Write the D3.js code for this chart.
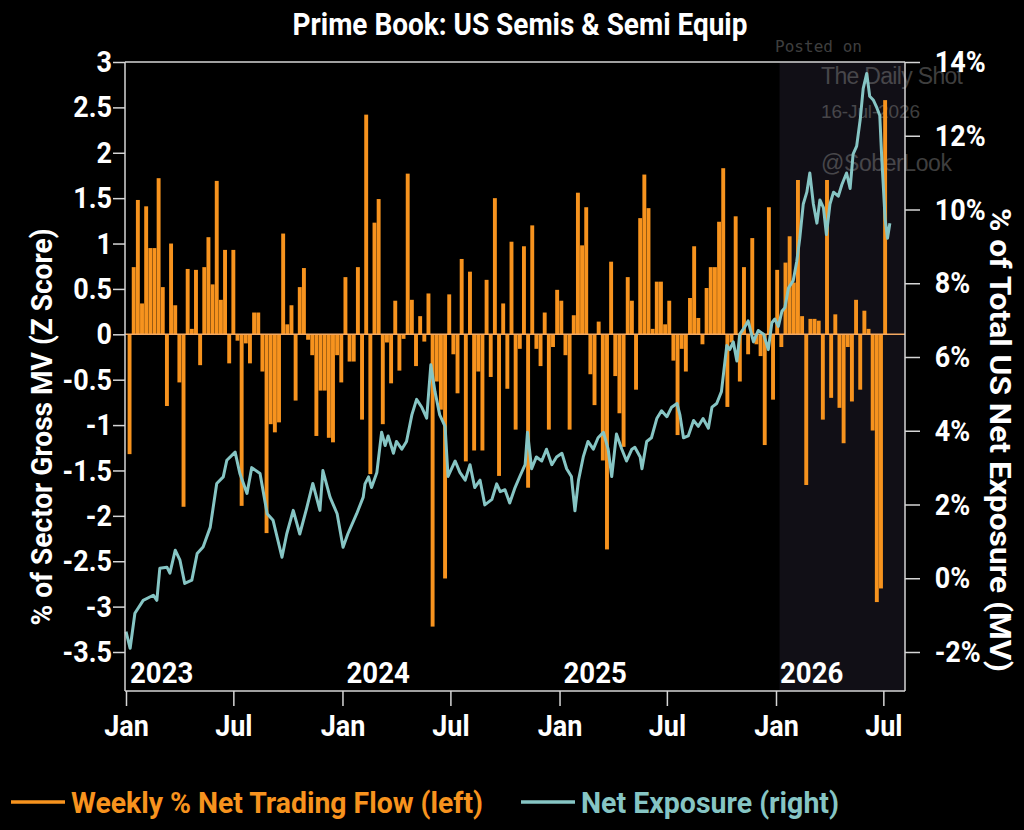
<!DOCTYPE html>
<html>
<head>
<meta charset="utf-8">
<script src="https://cdn.jsdelivr.net/npm/d3@7"></script>
<style>
  body { margin: 0; background: #000; }
  svg text { font-family: Roboto, "Noto Sans", sans-serif; font-weight: 700; fill: #fff; }
</style>
</head>
<body>
<div id="chart"></div>
<script>
// weekly % net trading flow (z score), one value per week from flowStart
const flowStart = "2023-01-07";
const flowValues = [
  -1.32, 0.74, 1.48, 0.34, 1.41, 0.95, 0.95, 1.72, 0.52, -0.79,
  1.0, 0.32, -0.53, -1.9, 0.72, 0.06, 0.71, -0.34, 0.74, 1.07,
  0.55, 1.69, 0.38, 0.93, -0.32, 0.93, -0.07, -1.89, -0.1, -0.32,
  0.24, 0.24, -0.41, -2.19, -0.99, -1.08, -0.97, 1.11, 0.11, 0.32,
  -0.73, 0.52, 0.73, -0.06, -0.23, -1.12, -0.62, -0.62, -1.14, -1.19,
  -0.23, -0.53, 0.63, -0.3, -0.3, 0.74,
  -0.94, 2.42, -1.54, 1.23, 1.49, -0.99, -0.09, -0.54, 0.37, -0.40,
  -0.05, 1.77, 0.38, -0.35, 0.2, -0.08, 0.45, -3.22, -0.52, -0.83,
  -2.69, 0.44, -0.22, -0.65, 0.83, -1.40, 0.69, -1.28, -0.41, -1.28,
  0.6, -0.47, 1.50,
  -1.56, 0.34, -0.6, 1.02, -1.05, -0.16, 0.97, -1.69, 1.2, -0.16,
  -0.35, 0.24, -1.05, -0.14, 0.49, 0.37, -0.23, -1.05, 0.21, 1.56,
  0.98, 1.4, -0.44, -0.78, 0.14, -1.39, -2.37, 0.8, -0.46, -0.87,
  -1.24, 0.63, 0.37,
  -0.61, 1.28, 1.76, 1.39, 0.06, 0.58, 0.58, 0.11, 0.37, -0.29,
  -1.11, -0.16, -0.41, 0.4, 0.97, 0.18, -0.11, 0.51, 0.74, 0.74,
  1.24, 1.83, -0.80, -0.09, 1.30, -0.52, 0.74, -0.22, 1.06, -0.11,
  -0.24, -1.22,
  1.40, -0.72, 0.71, -0.14, 0.79, 1.08, 0.57, 1.70, 0.2, -1.66,
  0.17, 0.17, 0.15, -0.94, 1.70, -0.70, 0.22, -0.81, -1.2, -0.14,
  -0.74, 0.38, -0.61, 0.26, 0.06, -1.06, -2.95, -2.80, 2.58
];

// net exposure (% of total US net), days since 2023-01-01
const exposureStart = "2023-01-01";
const exposureDay = [
  0, 7, 15, 29, 46, 52, 57, 69, 74, 83, 91, 99, 111, 120, 130, 142, 153, 164, 170, 184,
  192, 204, 212, 226, 238, 248, 263, 271, 282, 293, 305, 315, 327, 332, 344, 356, 366, 374, 389, 400,
  403, 409, 414, 423, 431, 437, 442, 451, 456, 465, 473, 482, 490, 499, 507, 514, 521, 529, 538, 543,
  555, 563, 572, 580, 588, 597, 605, 617, 625, 631,
  639, 647, 656, 664, 673, 677, 684, 692, 701, 709, 718, 726, 735, 743, 751, 757, 763, 771, 779, 788,
  796, 805, 813, 819, 827, 836, 844, 853,
  858, 867, 870, 878, 886, 895, 903, 912, 920, 929, 934, 940, 948, 957, 965, 973, 982, 988, 996, 1004,
  1013, 1018, 1024, 1030, 1035, 1044, 1049, 1058, 1066, 1075,
  1083, 1089, 1094, 1100, 1106, 1111, 1117, 1125, 1131, 1136, 1142, 1148, 1153, 1159, 1165, 1170, 1176, 1181, 1187, 1193,
  1201, 1207, 1215, 1221, 1226, 1232, 1238, 1243, 1249, 1254, 1260, 1266, 1271, 1274, 1280, 1284, 1288
];
const exposurePct = [
  -1.45, -1.9, -0.95, -0.6, -0.46, -0.6, 0.27, 0.3, 0.14, 0.76, 0.49, -0.14, -0.05, 0.67, 0.85, 1.38, 2.57, 2.75, 3.2, 3.42,
  2.84, 2.3, 3.0, 2.84, 1.75, 1.57, 0.57, 1.2, 1.84, 1.2, 1.92, 2.57, 1.84, 2.92, 2.2, 1.75, 0.84, 1.2, 1.75, 2.2,
  2.56, 2.75, 2.46, 2.87, 3.96, 3.6, 3.86, 3.39, 3.71, 3.5, 3.71, 4.43, 4.85, 4.63, 4.34, 5.79, 5.06, 4.43, 4.12, 2.76,
  3.18, 2.87, 2.66, 3.08, 2.46, 2.66, 1.99, 2.14, 2.56, 2.35,
  2.40, 2.04, 2.46, 2.76, 3.08, 3.96, 2.97, 3.29, 3.18, 3.5, 3.08, 3.29, 3.39, 2.97, 2.76, 1.83, 2.66, 3.29, 3.71, 3.5,
  3.81, 3.96, 3.5, 2.76, 3.91, 3.5, 3.18, 3.5,
  3.55, 3.29, 2.97, 3.71, 3.81, 4.33, 4.54, 4.38, 4.64, 4.74, 4.43, 3.81, 3.86, 4.28, 4.12, 4.33, 4.07, 4.64, 4.74, 5.06,
  6.31, 6.2, 6.41, 5.89, 6.62, 6.83, 6.98, 6.41, 6.72, 6.62,
  6.2, 6.93, 7.03, 6.83, 7.24, 7.34, 7.87, 8.07, 8.59, 9.21, 10.15, 10.47, 10.99, 10.15, 9.63, 10.26, 10.05, 9.32, 10.15, 10.47,
  10.36, 10.67, 10.99, 10.57, 11.5, 11.72, 12.44, 13.28, 13.69, 13.07, 12.97, 12.76, 12.55, 11.5, 9.74, 9.22, 9.63
];

const leftTicks = [-3.5, -3, -2.5, -2, -1.5, -1, -0.5, 0, 0.5, 1, 1.5, 2, 2.5, 3];
const rightTicks = [-2, 0, 2, 4, 6, 8, 10, 12, 14];
const monthTicks = ["2023-01-01", "2023-07-01", "2024-01-01", "2024-07-01", "2025-01-01", "2025-07-01", "2026-01-01", "2026-07-01"];
const monthLabels = ["Jan", "Jul", "Jan", "Jul", "Jan", "Jul", "Jan", "Jul"];
const yearTicks = ["2023-01-01", "2024-01-01", "2025-01-01", "2026-01-01"];
const yearLabels = ["2023", "2024", "2025", "2026"];
const shadeFrom = "2026-01-07";

const width = 1024, height = 830;
const plotL = 125, plotR = 905, plotT = 62, plotB = 652, axisY = 691;
const orange = "#f7931e", teal = "#86c5c4", axisColor = "#d6d6d6";

const parse = d3.utcParse("%Y-%m-%d");

const svg = d3.select("#chart")
  .append("svg")
  .attr("width", width)
  .attr("height", height)
  .style("background", "#000");

const x = d3.scaleUtc()
  .domain([parse("2023-01-01"), parse("2026-01-01")])
  .range([126, 776]);

const yL = d3.scaleLinear().domain([-3.5, 3]).range([plotB, plotT]);
const yR = d3.scaleLinear().domain([-2, 14]).range([plotB, plotT]);

const flowData = flowValues.map((v, i) => ({ date: d3.utcDay.offset(parse(flowStart), i * 7), value: v }));
const expData = exposureDay.map((d, i) => ({ date: d3.utcDay.offset(parse(exposureStart), d), value: exposurePct[i] }));

// shaded 2026 band
svg.append("rect")
  .attr("x", x(parse(shadeFrom)))
  .attr("y", plotT)
  .attr("width", plotR - x(parse(shadeFrom)))
  .attr("height", axisY - plotT)
  .attr("fill", "#110f16");

// watermark
const wm = svg.append("g").attr("opacity", 0.45);
wm.append("text").attr("x", 775).attr("y", 52).attr("textLength", 87)
  .style("font-family", "'DejaVu Sans Mono', monospace").style("font-weight", 400).style("font-size", "16px")
  .style("fill", "#8a8a8a").text("Posted on");
wm.append("text").attr("x", 821).attr("y", 84).attr("textLength", 142)
  .style("font-family", "'Liberation Sans', Arial, sans-serif").style("font-weight", 400).style("font-size", "23px")
  .style("fill", "#8a8a8a").text("The Daily Shot");
wm.append("text").attr("x", 821).attr("y", 118).attr("textLength", 99)
  .style("font-family", "'Liberation Sans', Arial, sans-serif").style("font-weight", 400).style("font-size", "19px")
  .style("fill", "#8a8a8a").text("16-Jul-2026");
wm.append("text").attr("x", 821).attr("y", 171).attr("textLength", 131)
  .style("font-family", "'Liberation Sans', Arial, sans-serif").style("font-weight", 400).style("font-size", "23px")
  .style("fill", "#8a8a8a").text("@SoberLook");

// bars
const barW = x(parse("2023-01-08")) - x(parse("2023-01-01")) - 0.25;
svg.append("g")
  .selectAll("rect")
  .data(flowData)
  .join("rect")
  .attr("x", d => x(d.date) - barW / 2)
  .attr("y", d => yL(Math.max(0, d.value)))
  .attr("width", barW)
  .attr("height", d => Math.abs(yL(d.value) - yL(0)))
  .attr("fill", orange);

// zero line
svg.append("line")
  .attr("x1", plotL).attr("x2", plotR)
  .attr("y1", yL(0)).attr("y2", yL(0))
  .attr("stroke", "#f4a860").attr("stroke-width", 1.5);

// net exposure line
svg.append("path")
  .datum(expData)
  .attr("fill", "none")
  .attr("stroke", teal)
  .attr("stroke-width", 3)
  .attr("stroke-linejoin", "round")
  .attr("d", d3.line().x(d => x(d.date)).y(d => yR(d.value)));

// frame lines
const frame = svg.append("g").attr("stroke", axisColor).attr("stroke-width", 1.5);
frame.append("line").attr("x1", plotL).attr("x2", plotR).attr("y1", plotT).attr("y2", plotT);
frame.append("line").attr("x1", plotL).attr("x2", plotL).attr("y1", plotT).attr("y2", axisY);
frame.append("line").attr("x1", plotR).attr("x2", plotR).attr("y1", plotT).attr("y2", axisY);
frame.append("line").attr("x1", plotL).attr("x2", plotR).attr("y1", axisY).attr("y2", axisY);

function styleAxis(g) {
  g.select(".domain").remove();
  g.selectAll(".tick line").attr("stroke", axisColor).attr("stroke-width", 1.5);
  g.selectAll(".tick text")
    .attr("fill", "#fff")
    .style("font-size", "30px")
    .attr("transform", "scale(0.9,1)");
}

svg.append("g")
  .attr("transform", `translate(${plotL},0)`)
  .call(d3.axisLeft(yL).tickValues(leftTicks).tickSize(12).tickPadding(2.5).tickFormat(d => String(d)))
  .call(styleAxis);

svg.append("g")
  .attr("transform", `translate(${plotR},0)`)
  .call(d3.axisRight(yR).tickValues(rightTicks).tickSize(15).tickPadding(18).tickFormat(d => d + "%"))
  .call(styleAxis);

svg.append("g")
  .attr("transform", `translate(0,${axisY})`)
  .call(d3.axisBottom(x).tickValues(monthTicks.map(parse)).tickSize(15).tickPadding(9)
    .tickFormat((d, i) => monthLabels[i]))
  .call(styleAxis);

// year labels inside the axis band
svg.append("g")
  .selectAll("text")
  .data(yearTicks)
  .join("text")
  .attr("transform", d => `translate(${x(parse(d)) + 4},683) scale(0.92,1)`)
  .style("font-size", "30px")
  .text((d, i) => yearLabels[i]);

// title
svg.append("text")
  .attr("x", 520).attr("y", 35)
  .attr("text-anchor", "middle")
  .attr("textLength", 455).attr("lengthAdjust", "spacingAndGlyphs")
  .style("font-size", "31px")
  .text("Prime Book: US Semis & Semi Equip");

// axis titles
svg.append("text")
  .attr("transform", "translate(52,427) rotate(-90)")
  .attr("text-anchor", "middle")
  .attr("textLength", 397).attr("lengthAdjust", "spacingAndGlyphs")
  .style("font-size", "29px")
  .text("% of Sector Gross MV (Z Score)");

svg.append("text")
  .attr("transform", "translate(990,440) rotate(90)")
  .attr("text-anchor", "middle")
  .attr("textLength", 464).attr("lengthAdjust", "spacingAndGlyphs")
  .style("font-size", "30px")
  .text("% of Total US Net Exposure (MV)");

// legend
const legend = [
  { label: "Weekly % Net Trading Flow (left)", color: orange, x: 11, len: 412 },
  { label: "Net Exposure (right)", color: teal, x: 521, len: 258 }
];
const lg = svg.append("g").selectAll("g").data(legend).join("g");
lg.append("line")
  .attr("x1", d => d.x).attr("x2", d => d.x + 54)
  .attr("y1", 802).attr("y2", 802)
  .attr("stroke", d => d.color).attr("stroke-width", 3.5);
lg.append("text")
  .attr("x", d => d.x + 60).attr("y", 813)
  .attr("textLength", d => d.len).attr("lengthAdjust", "spacingAndGlyphs")
  .style("font-size", "30px")
  .style("fill", d => d.color)
  .text(d => d.label);
</script>
</body>
</html>
